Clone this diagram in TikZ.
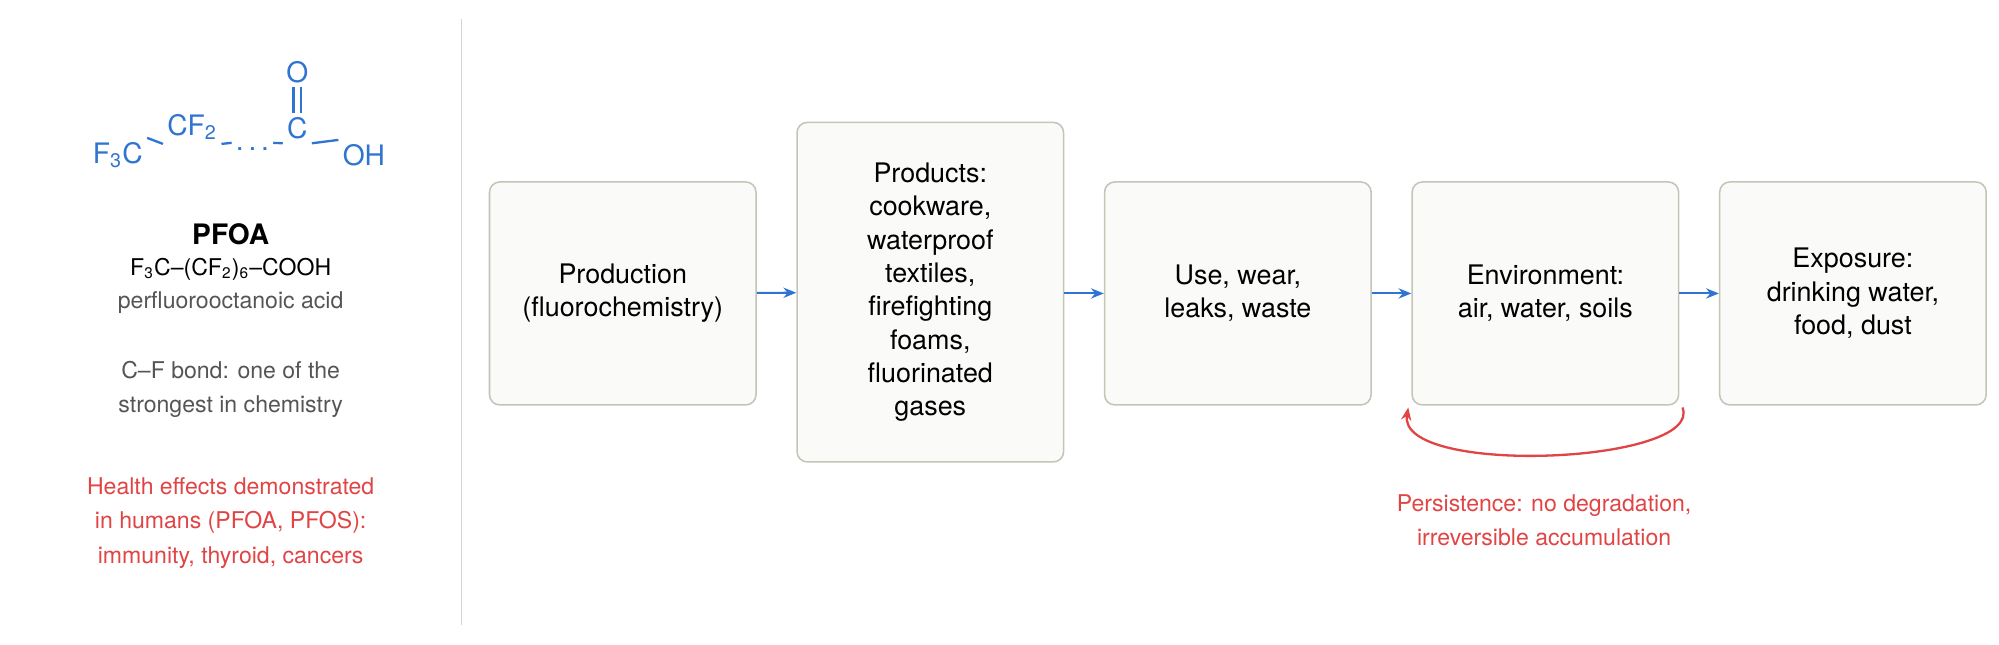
\documentclass[tikz,border=0pt]{standalone}
\usepackage{fontspec}
\setmainfont{TeX Gyre Heros}
\usetikzlibrary{arrows.meta}
\definecolor{blu}{HTML}{2F74D0}
\definecolor{rd}{HTML}{E04444}
\definecolor{gr}{HTML}{555555}
\definecolor{bx}{HTML}{FAFAF8}
\definecolor{bd}{HTML}{C4C4B8}
\newcommand{\sbs}[1]{\textsubscript{#1}}
\begin{document}
\begin{tikzpicture}[x=0.5pt,y=-0.5pt,
 box/.style={draw=bd,fill=bx,rounded corners=4pt,line width=0.6pt,minimum width=104pt,align=center,font=\fontsize{10.5}{13}\selectfont},
 ar/.style={blu,line width=0.8pt,-{Stealth[length=5pt,width=4pt]}},
 mol/.style={blu,font=\fontsize{11}{13}\selectfont,inner sep=1.5pt},
 bond/.style={blu,line width=0.9pt},
 lt/.style={font=\fontsize{9}{13.5}\selectfont,align=center}]
\useasboundingbox (0,0) rectangle (1560,503);
\draw[bd!70,line width=0.6pt] (360,15) -- (360,488);
% molecule
\node[mol] (f3c) at (92,121) {F\sbs{3}C};
\node[mol] (cf2) at (150,99) {CF\sbs{2}};
\node[mol] (dots) at (197,116) {.\,.\,.};
\node[mol] (c) at (232,100) {C};
\node[mol] (o) at (232,56) {O};
\node[mol] (oh) at (284,121) {OH};
\draw[bond] (f3c.north east) -- (cf2.south west);
\draw[bond] (cf2.south east) -- (dots.north west);
\draw[bond] (dots.north east) -- (c.south west);
\draw[bond] (c.south east) -- (oh.north west);
\draw[bond] ([xshift=-1.5pt]c.north) -- ([xshift=-1.5pt]o.south);
\draw[bond] ([xshift=1.5pt]c.north) -- ([xshift=1.5pt]o.south);
\node[lt,font=\fontsize{11}{13}\selectfont\bfseries] (pfoa) at (180,183) {PFOA};
\node[lt] (form) at (180,210) {F\sbs{3}C–(CF\sbs{2})\sbs{6}–COOH};
\node[lt,gr] (name) at (180,236) {perfluorooctanoic acid};
\node[lt,gr] (cf) at (180,304) {C–F bond: one of the\\strongest in chemistry};
\node[lt,rd] (hl) at (180,408) {Health effects demonstrated\\in humans (PFOA, PFOS):\\immunity, thyroid, cancers};
% boxes
\node[box,minimum height=87pt] (b1) at (486,229) {Production\\(fluorochemistry)};
\node[box,minimum height=132.5pt] (b2) at (726,228) {Products:\\cookware,\\waterproof\\textiles,\\firefighting\\foams,\\fluorinated\\gases};
\node[box,minimum height=87pt] (b3) at (966,229) {Use, wear,\\leaks, waste};
\node[box,minimum height=87pt] (b4) at (1206,229) {Environment:\\air, water, soils};
\node[box,minimum height=87pt] (b5) at (1446,229) {Exposure:\\drinking water,\\food, dust};
\draw[ar] (b1) -- (b2);
\draw[ar] (b2.east|-b1.east) -- (b3);
\draw[ar] (b3) -- (b4);
\draw[ar] (b4) -- (b5);
\coordinate (ls) at (1313,318);
\coordinate (le) at (1099,318);
\draw[rd,line width=0.9pt,-{Stealth[length=5pt,width=4pt]}] (ls) .. controls (1330,362) and (1090,372) .. (le);
\node[lt,rd] (pers) at (1205,406) {Persistence: no degradation,\\irreversible accumulation};
\end{tikzpicture}
\end{document}
